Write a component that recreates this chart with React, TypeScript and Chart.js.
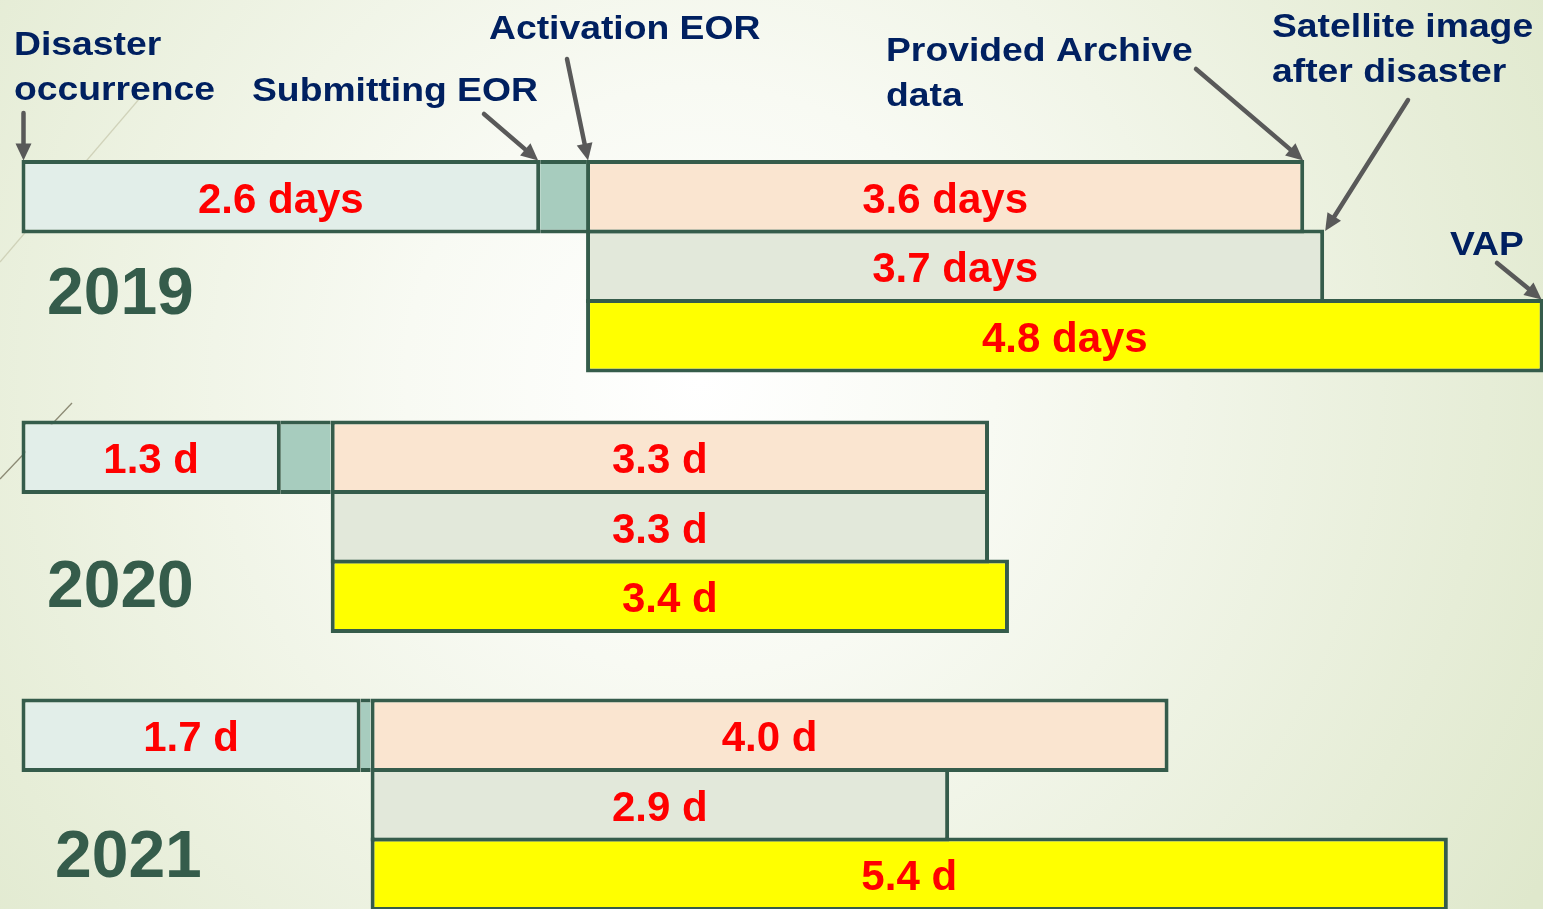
import React, { useEffect, useRef } from 'react';
import { Chart, registerables } from 'chart.js';

Chart.register(...registerables);

// ---- data (days) ----
const years = ['2019', '2020', '2021'];
const submitDays = [2.6, 1.3, 1.7];          // Disaster occurrence -> Submitting EOR
const activationDays = [0.23, 0.25, 0.05];   // Submitting EOR -> Activation EOR
const archiveDays = [3.6, 3.3, 4.0];         // Activation -> Provided archive data
const satelliteDays = [3.7, 3.3, 2.9];       // Activation -> Satellite image after disaster
const vapDays = [4.8, 3.4, 5.4];             // Activation -> VAP
const submitLabels = ['2.6 days', '1.3 d', '1.7 d'];
const archiveLabels = ['3.6 days', '3.3 d', '4.0 d'];
const satelliteLabels = ['3.7 days', '3.3 d', '2.9 d'];
const vapLabels = ['4.8 days', '3.4 d', '5.4 d'];

// ---- layout ----
const yearRow = [0, 3.75, 7.75];
const BORDER = '#355C4B';
const BW = 4;

const activationStart = (i: number) => submitDays[i];
const activationEnd = (i: number) => submitDays[i] + activationDays[i];

const bgPlugin = {
  id: 'bg',
  beforeDraw(chart: any) {
    const { ctx, width, height } = chart;
    ctx.save();
    const g = ctx.createRadialGradient(700, 380, 0, 700, 380, 980);
    g.addColorStop(0, '#FFFFFF');
    g.addColorStop(0.3, '#F8FAF3');
    g.addColorStop(1, '#DFE8CC');
    ctx.fillStyle = g;
    ctx.fillRect(0, 0, width, height);
    // decorative thin lines on the left
    ctx.strokeStyle = 'rgba(190,190,160,0.6)';
    ctx.lineWidth = 1.2;
    ctx.beginPath();
    ctx.moveTo(0, 262);
    ctx.lineTo(140, 98);
    ctx.stroke();
    ctx.strokeStyle = '#8C8A74';
    ctx.lineWidth = 1.3;
    ctx.beginPath();
    ctx.moveTo(0, 479);
    ctx.lineTo(72, 403);
    ctx.stroke();
    ctx.restore();
  },
};

const labelPlugin = {
  id: 'barLabels',
  afterDatasetsDraw(chart: any) {
    const { ctx } = chart;
    ctx.save();
    ctx.fillStyle = '#FF0000';
    ctx.font = 'bold 42px "Liberation Sans", Arial, sans-serif';
    ctx.textAlign = 'center';
    ctx.textBaseline = 'alphabetic';
    chart.data.datasets.forEach((ds: any, di: number) => {
      if (!ds.barLabels) return;
      const meta = chart.getDatasetMeta(di);
      meta.data.forEach((el: any, i: number) => {
        const p = el.getProps(['x', 'y', 'base'], true);
        ctx.fillText(ds.barLabels[i], (p.x + p.base) / 2, p.y + 16);
      });
    });
    ctx.restore();
  },
};

function drawArrow(ctx: any, x0: number, y0: number, x1: number, y1: number) {
  const dx = x1 - x0, dy = y1 - y0;
  const len = Math.hypot(dx, dy);
  const ux = dx / len, uy = dy / len;
  const head = 17, half = 8;
  ctx.beginPath();
  ctx.moveTo(x0, y0);
  ctx.lineTo(x1 - ux * head * 0.8, y1 - uy * head * 0.8);
  ctx.stroke();
  ctx.beginPath();
  ctx.moveTo(x1, y1);
  ctx.lineTo(x1 - ux * head - uy * half, y1 - uy * head + ux * half);
  ctx.lineTo(x1 - ux * head + uy * half, y1 - uy * head - ux * half);
  ctx.closePath();
  ctx.fill();
}

const annotationPlugin = {
  id: 'annotations',
  afterDraw(chart: any) {
    const { ctx } = chart;
    const el = (d: number, i: number) => chart.getDatasetMeta(d).data[i].getProps(['x', 'y', 'base', 'height'], true);
    const s0 = el(0, 0), a0 = el(2, 0), sat0 = el(3, 0), v0 = el(4, 0);
    const top = (p: any) => p.y - p.height / 2 + 0.5;

    ctx.save();
    ctx.strokeStyle = '#595959';
    ctx.fillStyle = '#595959';
    ctx.lineWidth = 4.5;
    ctx.lineCap = 'round';
    drawArrow(ctx, s0.base + 2, 113, s0.base + 2, top(s0));
    drawArrow(ctx, 484, 114, s0.x - 2, top(s0));
    drawArrow(ctx, 567, 59, a0.base + 2, top(a0));
    drawArrow(ctx, 1196, 69, a0.x - 1, top(a0));
    drawArrow(ctx, 1408, 100, sat0.x + 1, top(sat0) + 1);
    drawArrow(ctx, 1497, 263, v0.x - 2, top(v0));

    // annotation texts
    ctx.fillStyle = '#002060';
    ctx.font = 'bold 33px "Liberation Sans", Arial, sans-serif';
    ctx.textAlign = 'left';
    ctx.textBaseline = 'alphabetic';
    const texts: [string, number, number][] = [
      ['Disaster', 14, 55],
      ['occurrence', 14, 100],
      ['Submitting EOR', 252, 101],
      ['Activation EOR', 489, 39],
      ['Provided Archive', 886, 61],
      ['data', 886, 106],
      ['Satellite image', 1272, 37],
      ['after disaster', 1272, 82],
      ['VAP', 1450, 255],
    ];
    texts.forEach(([t, x, y]) => {
      ctx.save();
      ctx.translate(x, y);
      ctx.scale(1.13, 1);
      ctx.fillText(t, 0, 0);
      ctx.restore();
    });

    // year labels
    ctx.fillStyle = '#355C4B';
    ctx.font = 'bold 66px "Liberation Sans", Arial, sans-serif';
    const yearPos: [number, number][] = [[47, 314], [47, 607], [55, 877]];
    years.forEach((y, i) => ctx.fillText(y, yearPos[i][0], yearPos[i][1]));
    ctx.restore();
  },
};

export default function App() {
  const ref = useRef<HTMLCanvasElement>(null);

  useEffect(() => {
    document.body.style.margin = '0';
    const full = { top: BW, right: BW, bottom: BW, left: BW };
    const base = {
      borderColor: BORDER,
      borderSkipped: false as const,
      grouped: false,
      barThickness: 73.5,
      clip: false as const,
      inflateAmount: 0,
    };
    const chart = new Chart(ref.current!, {
      type: 'bar',
      data: {
        datasets: [
          {
            ...base,
            label: 'Disaster occurrence to Submitting EOR',
            data: years.map((_, i) => ({ y: yearRow[i], x: [0, submitDays[i]] })) as any,
            backgroundColor: '#E2EEE9',
            borderWidth: full,
            barLabels: submitLabels,
          } as any,
          {
            ...base,
            label: 'Submitting EOR to Activation EOR',
            data: years.map((_, i) => ({ y: yearRow[i], x: [activationStart(i), activationEnd(i)] })) as any,
            backgroundColor: '#A7CCBE',
            borderWidth: { top: BW, bottom: BW, left: 0, right: 0 },
          } as any,
          {
            ...base,
            label: 'Provided Archive data',
            data: years.map((_, i) => ({ y: yearRow[i], x: [activationEnd(i), activationEnd(i) + archiveDays[i]] })) as any,
            backgroundColor: '#FAE5D0',
            borderWidth: full,
            barLabels: archiveLabels,
          } as any,
          {
            ...base,
            label: 'Satellite image after disaster',
            data: years.map((_, i) => ({ y: yearRow[i] + 1, x: [activationEnd(i), activationEnd(i) + satelliteDays[i]] })) as any,
            backgroundColor: '#E2E8DA',
            borderWidth: full,
            barLabels: satelliteLabels,
          } as any,
          {
            ...base,
            label: 'VAP',
            data: years.map((_, i) => ({ y: yearRow[i] + 2, x: [activationEnd(i), activationEnd(i) + vapDays[i]] })) as any,
            backgroundColor: '#FFFF00',
            borderWidth: full,
            barLabels: vapLabels,
          } as any,
        ],
      },
      options: {
        indexAxis: 'y',
        animation: false,
        responsive: false,
        devicePixelRatio: 1,
        layout: { padding: { left: 21.5, right: 0, top: 0, bottom: 0 } },
        scales: {
          x: { type: 'linear', min: 0, max: 7.627, display: false, offset: false, grace: 0 },
          y: { type: 'linear', min: -2.83, max: 10.249, reverse: true, display: false, offset: false, grace: 0 },
        },
        plugins: {
          legend: { display: false },
          tooltip: { enabled: false },
        },
      },
      plugins: [bgPlugin, labelPlugin, annotationPlugin],
    });
    return () => chart.destroy();
  }, []);

  return (
    <div style={{ position: 'fixed', left: 0, top: 0, width: 1543, height: 909 }}>
      <canvas ref={ref} width={1543} height={909} style={{ display: 'block', width: 1543, height: 909 }} />
    </div>
  );
}
